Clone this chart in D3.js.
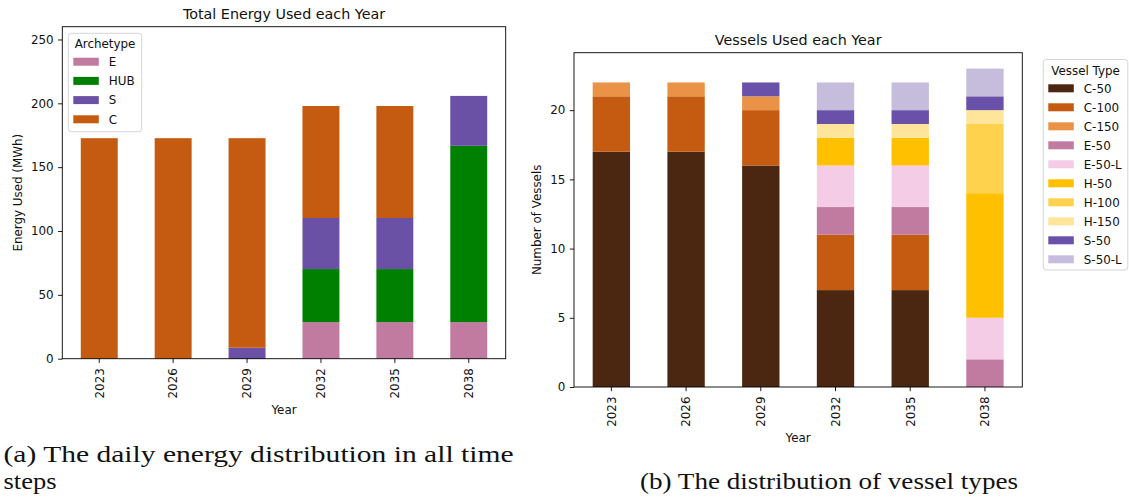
<!DOCTYPE html>
<html lang="en">
<head>
    <meta charset="UTF-8">
    <title>Energy and Vessels</title>
    <script src="https://cdn.jsdelivr.net/npm/d3@7/dist/d3.min.js"></script>
    <style>
        body { margin: 0; background: #fff; }
        text { font-family: "DejaVu Sans", sans-serif; fill: #111; }
        .caption { font-family: "Liberation Serif", serif; font-size: 24px; fill: #111; }
    </style>
</head>
<body>
<div id="main_container"></div>
<script>

    // ---- data ----
    var years = ["2023", "2026", "2029", "2032", "2035", "2038"];

    var archetypes = ["E", "HUB", "S", "C"];
    var energyE   = [0, 0, 0, 28.7, 28.7, 28.7];
    var energyHUB = [0, 0, 0, 41.5, 41.5, 138];
    var energyS   = [0, 0, 8.6, 40, 40, 39.1];
    var energyC   = [172.7, 172.7, 164.1, 87.7, 87.7, 0];
    var energyTicks = [0, 50, 100, 150, 200, 250];

    var vesselTypes = ["C-50", "C-100", "C-150", "E-50", "E-50-L", "H-50", "H-100", "H-150", "S-50", "S-50-L"];
    var vC50  = [17, 17, 16, 7, 7, 0];
    var vC100 = [4, 4, 4, 4, 4, 0];
    var vC150 = [1, 1, 1, 0, 0, 0];
    var vE50  = [0, 0, 0, 2, 2, 2];
    var vE50L = [0, 0, 0, 3, 3, 3];
    var vH50  = [0, 0, 0, 2, 2, 9];
    var vH100 = [0, 0, 0, 0, 0, 5];
    var vH150 = [0, 0, 0, 1, 1, 1];
    var vS50  = [0, 0, 1, 1, 1, 1];
    var vS50L = [0, 0, 0, 2, 2, 2];
    var vesselTicks = [0, 5, 10, 15, 20];

    var archColors = ["#c27ba0", "#008000", "#6a51a6", "#c55a11"];
    var vesselColors = ["#4b2611", "#c55a11", "#ea9347", "#c27ba0", "#f4cce6",
                        "#ffc000", "#ffd24d", "#ffe599", "#6950a8", "#c6bcdc"];

    var svg = d3.select("#main_container").append("svg")
            .attr("width", 1129)
            .attr("height", 500);

    function makeRows(keys, series) {
        return years.map(function(y, i) {
            var row = { year: y };
            keys.forEach(function(k, j) { row[k] = series[j][i]; });
            return row;
        });
    }

    function drawChart(opt) {
        var g = svg.append("g");
        var x = d3.scaleBand().domain(years)
                .range([opt.left, opt.right])
                .paddingInner(0.5).paddingOuter(0.25);
        var y = d3.scaleLinear().domain([0, opt.ymax]).range([opt.bottom, opt.top]);

        var stacked = d3.stack().keys(opt.keys)(makeRows(opt.keys, opt.series));

        g.selectAll(".layer").data(stacked).enter().append("g")
            .attr("fill", function(d, i) { return opt.colors[i]; })
            .selectAll("rect").data(function(d) { return d; }).enter().append("rect")
            .attr("x", function(d) { return x(d.data.year); })
            .attr("width", x.bandwidth())
            .attr("y", function(d) { return y(d[1]); })
            .attr("height", function(d) { return y(d[0]) - y(d[1]); });

        // axes
        var yAxis = g.append("g").attr("transform", "translate(" + opt.left + ",0)")
            .call(d3.axisLeft(y).tickValues(opt.ticks).tickSize(4.2).tickPadding(4.5).tickSizeOuter(0));
        var xAxis = g.append("g").attr("transform", "translate(0," + opt.bottom + ")")
            .call(d3.axisBottom(x).tickSize(4.2).tickSizeOuter(0));
        [yAxis, xAxis].forEach(function(a) {
            a.select(".domain").remove();
            a.selectAll("line").attr("stroke", "#000").attr("stroke-width", 0.9);
            a.selectAll("text").attr("font-family", "DejaVu Sans").attr("font-size", 11.9).attr("fill", "#111");
        });
        xAxis.selectAll("text")
            .attr("text-anchor", "end")
            .attr("transform", "rotate(-90)")
            .attr("x", -9.5).attr("y", 0).attr("dy", "0.36em");

        // frame
        g.append("rect")
            .attr("x", opt.left).attr("y", opt.top)
            .attr("width", opt.right - opt.left).attr("height", opt.bottom - opt.top)
            .attr("fill", "none").attr("stroke", "#000").attr("stroke-width", 0.9);

        // titles
        g.append("text").attr("x", (opt.left + opt.right) / 2).attr("y", opt.top - 8)
            .attr("text-anchor", "middle").attr("font-size", 14.3).text(opt.title);
        g.append("text").attr("x", (opt.left + opt.right) / 2).attr("y", opt.xlabelY)
            .attr("text-anchor", "middle").attr("font-size", 11.9).text("Year");
        g.append("text")
            .attr("transform", "translate(" + opt.ylabelX + "," + (opt.top + opt.bottom) / 2 + ") rotate(-90)")
            .attr("text-anchor", "middle").attr("font-size", 11.9).text(opt.ylabel);

        // legend
        var L = opt.legend;
        g.append("rect")
            .attr("x", L.x).attr("y", L.y).attr("width", L.w).attr("height", L.h)
            .attr("rx", 3).attr("fill", "#fff").attr("fill-opacity", 0.8)
            .attr("stroke", "#d5d5d5").attr("stroke-width", 1);
        g.append("text").attr("x", L.x + L.w / 2).attr("y", L.y + 15)
            .attr("text-anchor", "middle").attr("font-size", 11.9).text(L.title);
        var items = g.selectAll(".leg").data(opt.keys).enter().append("g")
            .attr("transform", function(d, i) { return "translate(" + (L.x + 5) + "," + (L.first + i * L.step) + ")"; });
        items.append("rect").attr("x", 0).attr("y", -4).attr("width", 25.5).attr("height", 8)
            .attr("fill", function(d, i) { return opt.colors[i]; });
        items.append("text").attr("x", 35.5).attr("y", 0).attr("dy", "0.36em")
            .attr("font-size", 11.9).text(function(d) { return d; });
    }

    drawChart({
        left: 62.3, right: 505.7, top: 26.7, bottom: 358.7, ymax: 260,
        keys: archetypes, series: [energyE, energyHUB, energyS, energyC],
        colors: archColors, ticks: energyTicks,
        title: "Total Energy Used each Year", ylabel: "Energy Used (MWh)",
        xlabelY: 413.5, ylabelX: 22,
        legend: { x: 68.3, y: 33.3, w: 73.4, h: 98.4, title: "Archetype", first: 61.7, step: 19.2 }
    });

    drawChart({
        left: 574, right: 1022.3, top: 52.7, bottom: 387, ymax: 24.15,
        keys: vesselTypes, series: [vC50, vC100, vC150, vE50, vE50L, vH50, vH100, vH150, vS50, vS50L],
        colors: vesselColors, ticks: vesselTicks,
        title: "Vessels Used each Year", ylabel: "Number of Vessels",
        xlabelY: 442, ylabelX: 541,
        legend: { x: 1043.3, y: 59.5, w: 84.5, h: 210.5, title: "Vessel Type", first: 88.3, step: 19.0 }
    });

    // sub-figure captions
    svg.append("text").attr("class", "caption").attr("x", 3.5).attr("y", 462)
        .attr("textLength", 510).attr("lengthAdjust", "spacingAndGlyphs")
        .text("(a) The daily energy distribution in all time");
    svg.append("text").attr("class", "caption").attr("x", 3.5).attr("y", 489)
        .attr("textLength", 53).attr("lengthAdjust", "spacingAndGlyphs")
        .text("steps");
    svg.append("text").attr("class", "caption").attr("x", 640).attr("y", 489)
        .attr("textLength", 378).attr("lengthAdjust", "spacingAndGlyphs")
        .text("(b) The distribution of vessel types");
</script>
</body>
</html>
